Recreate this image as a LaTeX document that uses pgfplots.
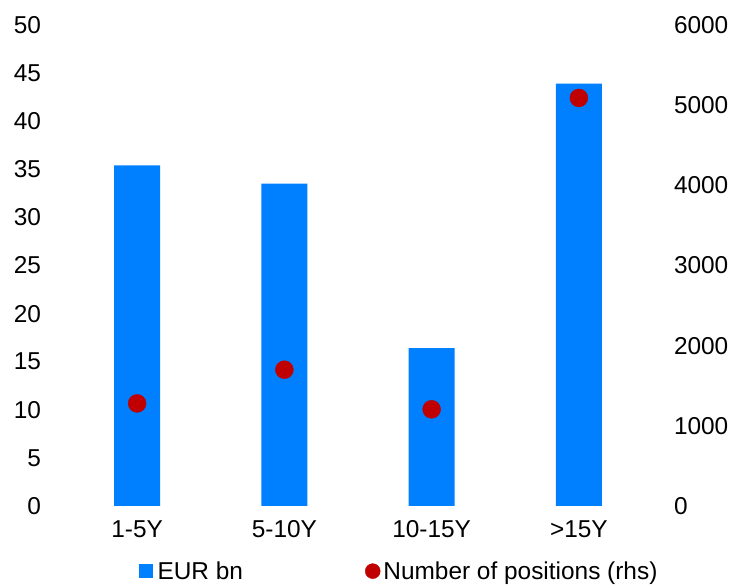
\documentclass[border=0pt]{standalone}
\usepackage{pgfplots}
\pgfplotsset{compat=1.18}
\usepackage{fontspec}
\setmainfont{Liberation Sans}
\definecolor{barblue}{RGB}{0,128,255}
\definecolor{dotred}{RGB}{192,0,0}
\begin{document}
\begin{tikzpicture}[x=1bp,y=1bp]
\useasboundingbox (-63.5bp,-80bp) rectangle (672.5bp,506bp);
\pgfplotsset{
  common/.style={
    scale only axis, width=589bp, height=481bp,
    at={(0,0)}, anchor=south west,
    xmin=-0.5, xmax=3.5,
    axis line style={draw=none},
    tick style={draw=none},
    /pgf/number format/assume math mode=true,
    /pgf/number format/1000 sep={},
    ticklabel style={font=\fontsize{24.5}{29}\selectfont},
  }
}
\begin{axis}[common,
  ymin=0, ymax=50, ytick={0,5,...,50},
  xtick={0,1,2,3}, xticklabels={1-5Y,5-10Y,10-15Y,>15Y},
  yticklabel style={xshift=-19bp},
  xticklabel style={yshift=-11bp},
]
\addplot[ybar, bar width=46bp, fill=barblue, draw=none] coordinates {
(0,35.4) (1,33.5) (2,16.4) (3,43.9)};
\end{axis}
\begin{axis}[common,
  axis y line*=right, axis x line=none,
  ymin=0, ymax=6000, ytick={0,1000,...,6000},
  yticklabel style={xshift=18bp},
  legend style={draw=none, fill=none, legend columns=2,
    at={(0.571,-0.113)}, anchor=north,
    font=\fontsize{24.5}{29}\selectfont,
    nodes={inner xsep=3bp, inner ysep=1bp},
    /tikz/every even column/.append style={column sep=119bp},
    inner sep=0pt},
]
\addlegendimage{legend image code/.code={\fill[barblue] (0bp,-6.5bp) rectangle (13bp,6.5bp);}}
\addlegendentry{\hspace{2bp}EUR bn}
\addplot[only marks, mark=*, mark size=9bp, color=dotred,
  legend image code/.code={\fill[dotred] (7.5bp,0bp) circle (7.5bp);}] coordinates {
(0,1280) (1,1700) (2,1206) (3,5090)};
\addlegendentry{Number of positions (rhs)}
\end{axis}
\end{tikzpicture}
\end{document}
